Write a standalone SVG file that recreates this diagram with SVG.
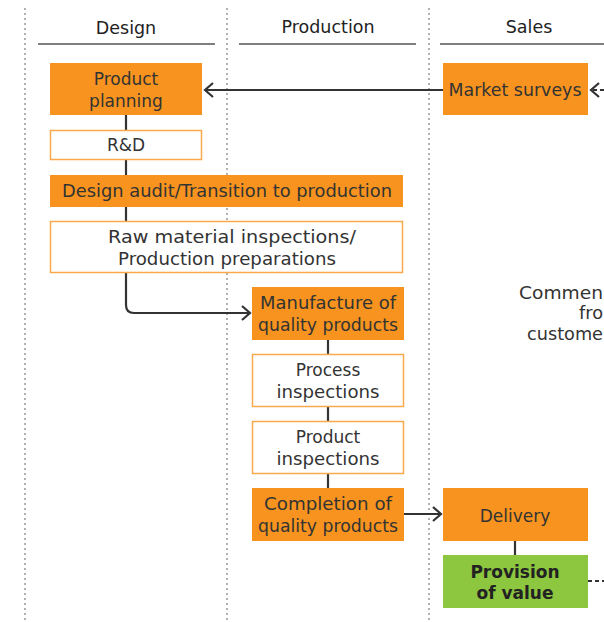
<svg xmlns="http://www.w3.org/2000/svg" width="604" height="622" viewBox="0 0 604 622">
<style>
.lane{stroke:#888;stroke-width:1.3;stroke-dasharray:2 3;fill:none}
.hdr{stroke:#555;stroke-width:1.3}
.ht{font-family:"DejaVu Sans",Arial,sans-serif;font-size:17.5px;fill:#222;text-anchor:middle}
.of{fill:#F7931E}
.ow{fill:#fff;stroke:#F9A94B;stroke-width:1.5}
.gr{fill:#8DC63F}
.t{font-family:"DejaVu Sans",Arial,sans-serif;font-size:17px;fill:#333;text-anchor:middle}
.tb{font-weight:bold;fill:#222}
.c{stroke:#333;stroke-width:2.2;fill:none}
.cd{stroke:#333;stroke-width:2.2;fill:none;stroke-dasharray:4 3}
.cm{font-family:"DejaVu Sans",Arial,sans-serif;font-size:17px;fill:#333}
</style>
<defs>
<marker id="ah" markerWidth="12" markerHeight="16" refX="10" refY="8" orient="auto" markerUnits="userSpaceOnUse">
<path d="M2,1 L10,8 L2,15" fill="none" stroke="#333" stroke-width="2.2"/>
</marker>
</defs>
<g id="lanes">
<line class="lane" x1="25" y1="8" x2="25" y2="622"/>
<line class="lane" x1="227" y1="8" x2="227" y2="622"/>
<line class="lane" x1="429" y1="8" x2="429" y2="622"/>
<line class="hdr" x1="38" y1="44" x2="215" y2="44"/>
<line class="hdr" x1="239" y1="44" x2="416" y2="44"/>
<line class="hdr" x1="440" y1="44" x2="604" y2="44"/>
<text class="ht" x="126" y="34">Design</text>
<text class="ht" x="328" y="33">Production</text>
<text class="ht" x="529" y="33">Sales</text>
</g>
<g id="connectors">
<line class="c" x1="126" y1="115" x2="126" y2="221"/>
<path class="c" d="M126,273 V305 Q126,313 134,313 H250" marker-end="url(#ah)"/>
<line class="c" x1="328" y1="340" x2="328" y2="488"/>
<line class="c" x1="443" y1="90" x2="205" y2="90" marker-end="url(#ah)"/>
<line class="cd" x1="604" y1="90" x2="591" y2="90" marker-end="url(#ah)"/>
<line class="c" x1="404" y1="514" x2="441" y2="514" marker-end="url(#ah)"/>
<line class="c" x1="515" y1="541" x2="515" y2="555"/>
<line class="cd" x1="588" y1="581" x2="604" y2="581"/>
</g>
<g id="product-planning">
<rect class="of" x="50" y="63" width="152" height="52"/>
<text class="t" x="126" y="85">Product</text>
<text class="t" x="126" y="107">planning</text>
</g>
<g id="market-surveys">
<rect class="of" x="443" y="63" width="145" height="52"/>
<text class="t" x="515" y="96" textLength="133" lengthAdjust="spacingAndGlyphs">Market surveys</text>
</g>
<g id="rnd">
<rect class="ow" x="50.5" y="130.5" width="151" height="29"/>
<text class="t" x="126" y="151">R&amp;D</text>
</g>
<g id="design-audit">
<rect class="of" x="50" y="175" width="353" height="32"/>
<text class="t" x="227" y="197" textLength="330" lengthAdjust="spacingAndGlyphs">Design audit/Transition to production</text>
</g>
<g id="raw-material">
<rect class="ow" x="50.5" y="221.5" width="352" height="51"/>
<text class="t" x="232" y="243" textLength="248" lengthAdjust="spacingAndGlyphs">Raw material inspections/</text>
<text class="t" x="227" y="265" textLength="218" lengthAdjust="spacingAndGlyphs">Production preparations</text>
</g>
<g id="manufacture">
<rect class="of" x="252" y="287" width="152" height="53"/>
<text class="t" x="328" y="309" textLength="136" lengthAdjust="spacingAndGlyphs">Manufacture of</text>
<text class="t" x="328" y="331" textLength="140" lengthAdjust="spacingAndGlyphs">quality products</text>
</g>
<g id="process-inspections">
<rect class="ow" x="252.5" y="354.5" width="151" height="52"/>
<text class="t" x="328" y="376">Process</text>
<text class="t" x="328" y="398" textLength="103" lengthAdjust="spacingAndGlyphs">inspections</text>
</g>
<g id="product-inspections">
<rect class="ow" x="252.5" y="421.5" width="151" height="52"/>
<text class="t" x="328" y="443">Product</text>
<text class="t" x="328" y="465" textLength="103" lengthAdjust="spacingAndGlyphs">inspections</text>
</g>
<g id="completion">
<rect class="of" x="252" y="488" width="152" height="53"/>
<text class="t" x="328" y="510" textLength="128" lengthAdjust="spacingAndGlyphs">Completion of</text>
<text class="t" x="328" y="532" textLength="140" lengthAdjust="spacingAndGlyphs">quality products</text>
</g>
<g id="delivery">
<rect class="of" x="443" y="488" width="145" height="53"/>
<text class="t" x="515" y="522">Delivery</text>
</g>
<g id="provision">
<rect class="gr" x="443" y="555" width="145" height="53"/>
<text class="t tb" x="515" y="578">Provision</text>
<text class="t tb" x="515" y="599">of value</text>
</g>
<g id="comments">
<text class="cm" x="519" y="299" textLength="84" lengthAdjust="spacingAndGlyphs">Commen</text>
<text class="cm" x="579" y="319" textLength="24" lengthAdjust="spacingAndGlyphs">fro</text>
<text class="cm" x="527" y="340" textLength="76" lengthAdjust="spacingAndGlyphs">custome</text>
</g>
</svg>
